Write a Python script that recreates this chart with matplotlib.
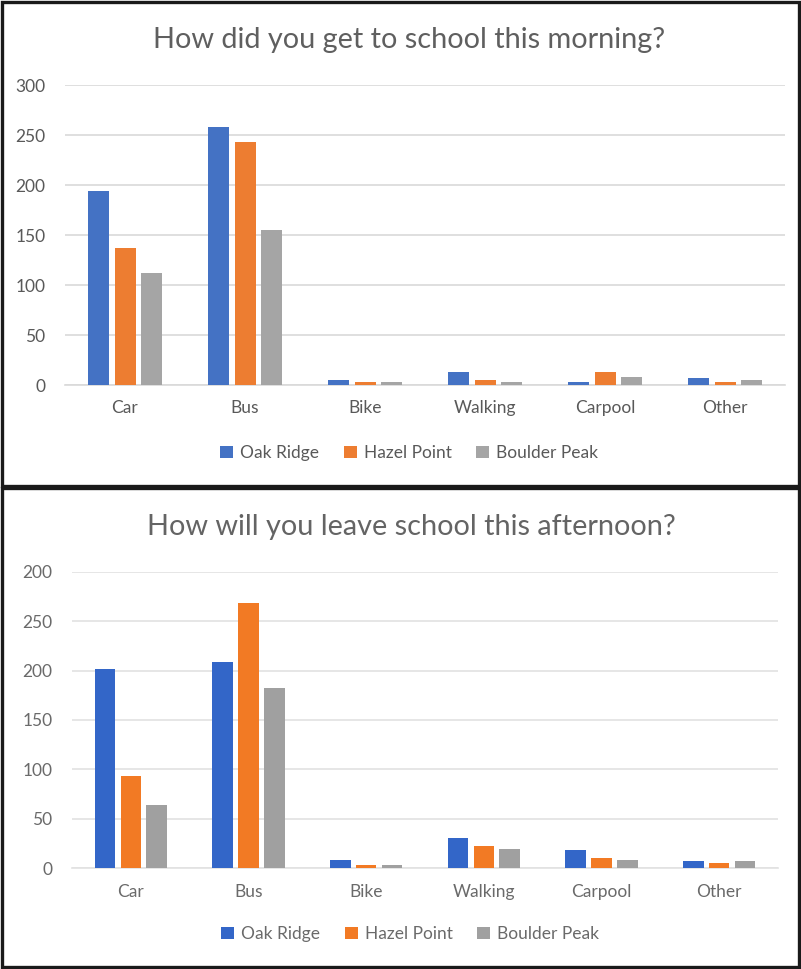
import matplotlib
matplotlib.use("Agg")
import matplotlib.pyplot as plt
from matplotlib.patches import Rectangle
import numpy as np

plt.rcParams['font.family'] = ['Lato', 'DejaVu Sans']

categories = ["Car", "Bus", "Bike", "Walking", "Carpool", "Other"]
series_names = ["Oak Ridge", "Hazel Point", "Boulder Peak"]

morning_oak = [194, 258, 5, 13, 3, 7]
morning_hazel = [137, 243, 3, 5, 13, 3]
morning_boulder = [112, 155, 3, 3, 8, 5]

afternoon_oak = [202, 209, 8, 31, 19, 7]
afternoon_hazel = [93, 268, 3, 23, 10, 5]
afternoon_boulder = [64, 182, 3, 20, 8, 7]

y_ticks = [0, 50, 100, 150, 200, 250, 300]
morning_tick_labels = ["0", "50", "100", "150", "200", "250", "300"]
afternoon_tick_labels = ["0", "50", "100", "150", "200", "250", "200"]

title_morning = "How did you get to school this morning?"
title_afternoon = "How will you leave school this afternoon?"

W, H = 801, 969
fig = plt.figure(figsize=(W / 100, H / 100), dpi=100)
fig.patch.set_facecolor("white")


def rect(l, t, r, b):
    return [l / W, 1 - b / H, (r - l) / W, (b - t) / H]


def draw_panel(ax, data, colors, tick_labels, text_color, grid_color):
    x = np.arange(len(categories))
    offsets = [-0.22, 0, 0.22]
    width = 0.175
    handles = []
    for vals, off, c, name in zip(data, offsets, colors, series_names):
        h = ax.bar(x + off, vals, width=width, color=c, label=name, zorder=3)
        handles.append(h)
    ax.set_xlim(-0.5, len(categories) - 0.5)
    ax.set_ylim(0, 300)
    ax.set_yticks(y_ticks)
    ax.set_yticklabels(tick_labels, color=text_color, fontsize=12.5)
    ax.set_xticks(x)
    ax.set_xticklabels(categories, color=text_color, fontsize=12.5)
    ax.tick_params(axis='both', length=0)
    ax.tick_params(axis='y', pad=14)
    ax.tick_params(axis='x', pad=11)
    ax.grid(axis='y', color=grid_color, linewidth=1.2, zorder=0)
    for s in ["top", "right", "left"]:
        ax.spines[s].set_visible(False)
    ax.spines["bottom"].set_color(grid_color)
    ax.spines["bottom"].set_linewidth(1.2)
    ax.set_facecolor("none")
    return handles


# Top panel
ax1 = fig.add_axes(rect(65, 85, 785, 385))
h1 = draw_panel(ax1, [morning_oak, morning_hazel, morning_boulder],
                ["#4472C4", "#ED7D31", "#A5A5A5"], morning_tick_labels,
                "#595959", "#D9D9D9")
fig.text(409 / W, 1 - 40 / H, title_morning, ha="center", va="center",
         fontsize=20.8, color="#5f5f5f")
fig.legend(handles=h1, labels=series_names, loc="center",
           bbox_to_anchor=(409 / W, 1 - 453 / H), ncol=3, frameon=False,
           fontsize=12.5, handlelength=0.75, handleheight=0.75,
           handletextpad=0.4, columnspacing=1.4, labelcolor="#595959")

# Bottom panel
ax2 = fig.add_axes(rect(72, 571.7, 778, 868.3))
h2 = draw_panel(ax2, [afternoon_oak, afternoon_hazel, afternoon_boulder],
                ["#3366C8", "#F27A24", "#A0A0A0"], afternoon_tick_labels,
                "#6a6a6a", "#E2E2E2")
fig.text(411 / W, 1 - 527 / H, title_afternoon, ha="center", va="center",
         fontsize=20.8, color="#646464")
fig.legend(handles=h2, labels=series_names, loc="center",
           bbox_to_anchor=(410 / W, 1 - 934 / H), ncol=3, frameon=False,
           fontsize=12.5, handlelength=0.75, handleheight=0.75,
           handletextpad=0.4, columnspacing=1.4, labelcolor="#6a6a6a")

# Panel borders
lw = 2.4
fig.patches.append(Rectangle((2 / W, 1 - 486 / H), (W - 4) / W, (484) / H,
                             transform=fig.transFigure, fill=False,
                             edgecolor="#1a1a1a", linewidth=lw))
fig.patches.append(Rectangle((2 / W, 2 / H), (W - 4) / W, (479) / H,
                             transform=fig.transFigure, fill=False,
                             edgecolor="#1a1a1a", linewidth=lw))

fig.savefig("out.png", dpi=100)
